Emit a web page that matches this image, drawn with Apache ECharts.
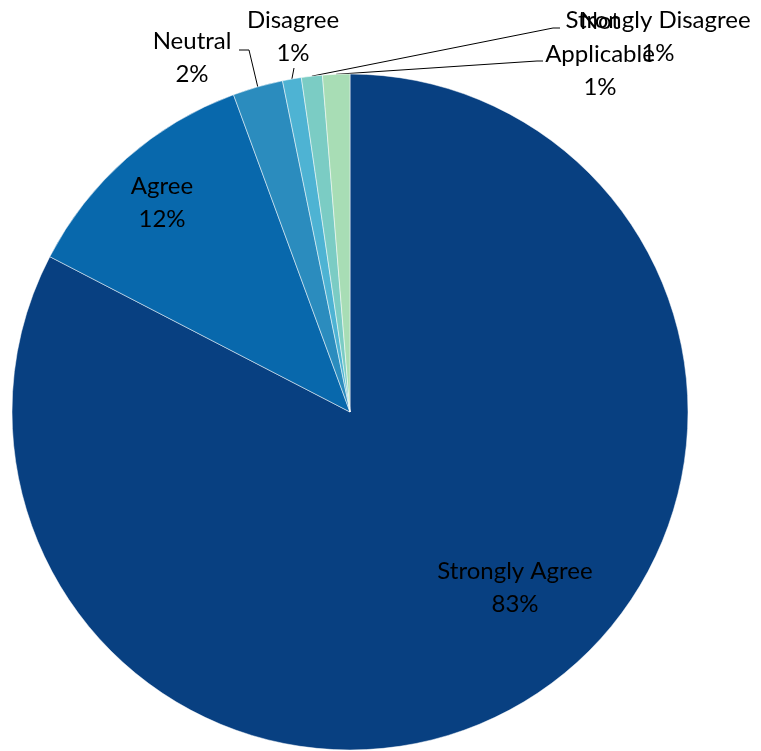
<!DOCTYPE html>
<html>
<head>
<meta charset="utf-8">
<script src="https://cdn.jsdelivr.net/npm/echarts@6/dist/echarts.min.js"></script>
<style>
  html, body { margin: 0; padding: 0; background: #ffffff; }
  #chart { width: 761px; height: 751px; }
</style>
</head>
<body>
<div id="chart"></div>
<script>
// Survey responses (share of respondents, %)
const categories = ['Strongly Agree', 'Agree', 'Neutral', 'Disagree', 'Strongly Disagree', 'Not Applicable'];
const shares = [82.6, 11.8, 2.4, 0.9, 1.0, 1.3];
const labelNames = ['Strongly Agree', 'Agree', 'Neutral', 'Disagree', 'Strongly Disagree', 'Not\nApplicable'];

const sliceColors = ['#084081', '#0868ac', '#2b8cbe', '#4eb3d3', '#7bccc4', '#a8ddb5'];

// Where each label block sits, and the elbow of its leader line (if any)
const labelSpots = [
  { x: 515, y: 588 },
  { x: 162, y: 203 },
  { x: 192, y: 58, line: [[249, 50], [239, 50]] },
  { x: 293, y: 37, line: [[294, 68]] },
  { x: 658, y: 37, line: [[553, 28], [560, 28]] },
  { x: 600, y: 54, line: [[537, 61], [543, 61]] }
];

const chart = echarts.init(document.getElementById('chart'), null, { renderer: 'canvas' });

const seriesData = categories.map((name, i) => ({
  name: name,
  value: shares[i],
  itemStyle: { color: sliceColors[i] },
  label: { formatter: labelNames[i] + '\n' + Math.round(shares[i]) + '%' },
  labelLine: { show: !!labelSpots[i].line }
}));

chart.setOption({
  animation: false,
  backgroundColor: '#ffffff',
  series: [{
    type: 'pie',
    center: [350, 412],
    radius: 338,
    startAngle: 90,
    clockwise: true,
    avoidLabelOverlap: false,
    itemStyle: { borderColor: '#ffffff', borderWidth: 0.5 },
    label: {
      show: true,
      position: 'outside',
      color: '#000000',
      fontFamily: 'Lato, "Open Sans", sans-serif',
      fontSize: 24,
      lineHeight: 33,
      align: 'center'
    },
    labelLine: {
      show: true,
      length: 10,
      length2: 10,
      lineStyle: { color: '#000000', width: 1 }
    },
    emphasis: { disabled: true },
    labelLayout: function (params) {
      const spot = labelSpots[params.dataIndex];
      const out = { x: spot.x, y: spot.y, align: 'center', verticalAlign: 'middle' };
      if (spot.line && params.labelLinePoints) {
        out.labelLinePoints = [params.labelLinePoints[0]].concat(spot.line);
      }
      return out;
    },
    data: seriesData
  }]
});
</script>
</body>
</html>
